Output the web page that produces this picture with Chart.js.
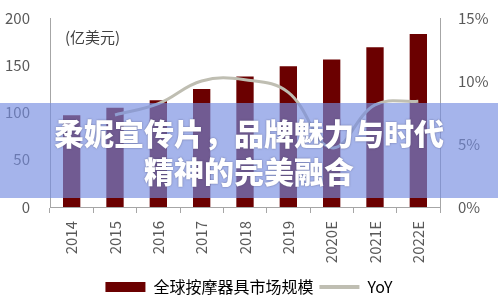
<!DOCTYPE html>
<html>
<head>
<meta charset="utf-8">
<script src="https://cdn.jsdelivr.net/npm/chart.js@4.4.1/dist/chart.umd.min.js"></script>
<style>
  html, body { margin: 0; padding: 0; background: #ffffff; }
  #wrap { position: relative; width: 498px; height: 302px; overflow: hidden; }
  #chart { position: absolute; left: 0; top: 0; }
  #banner {
    position: absolute; left: 0; top: 103px; width: 498px; height: 95px;
    background: rgba(117, 140, 225, 0.65);
    display: flex; flex-direction: column; align-items: center; justify-content: center;
    color: #ffffff;
    font-family: "Noto Sans CJK SC", "Noto Sans", sans-serif;
    font-weight: 900; font-size: 30px; line-height: 38px;
    text-shadow: 0 0 2px rgba(60, 60, 100, 0.6);
  }
</style>
</head>
<body>
<div id="wrap">
  <canvas id="chart" width="498" height="302"></canvas>
  <div id="banner"><div>柔妮宣传片，品牌魅力与时代</div><div>精神的完美融合</div></div>
</div>
<script>
// 全球按摩器具市场规模（亿美元）及同比增速
const years = ['2014', '2015', '2016', '2017', '2018', '2019', '2020E', '2021E', '2022E'];
const marketSize = [97, 105, 113, 125, 138, 149, 156, 169, 183];
const yoy = [null, 7.3, 8.2, 10.0, 10.1, 9.1, 4.7, 8.1, 8.4];
const leftTicks = [0, 50, 100, 150, 200];
const rightTicks = [0, 5, 10, 15];
const unitLabel = '(亿美元)';
const seriesNames = ['全球按摩器具市场规模', 'YoY'];

const barColor = '#6b0000';
const lineColor = '#bfbeb2';
const tickColor = '#595959';
const axisColor = '#a6a6a6';
const font = "'Noto Sans CJK SC', 'Noto Sans', sans-serif";

const unitLabelPlugin = {
  id: 'unitLabel',
  afterDatasetsDraw(chart) {
    const { ctx, chartArea } = chart;
    ctx.save();
    ctx.fillStyle = '#404040';
    ctx.font = '15px ' + font;
    ctx.textBaseline = 'middle';
    ctx.textAlign = 'left';
    ctx.fillText(unitLabel, chartArea.left + 15, chartArea.top + 19);
    ctx.restore();
  }
};

// vertical axes: fixed width, no extra label padding above/below the plot
function fixVertical(width) {
  return function (scale) {
    scale.width = width;
    scale.paddingTop = 0;
    scale.paddingBottom = 0;
  };
}

new Chart(document.getElementById('chart'), {
  data: {
    labels: years,
    datasets: [
      {
        type: 'line',
        label: seriesNames[1],
        data: yoy,
        yAxisID: 'y1',
        borderColor: lineColor,
        backgroundColor: lineColor,
        borderWidth: 3,
        pointRadius: 0,
        tension: 0.4,
        order: 0
      },
      {
        type: 'bar',
        label: seriesNames[0],
        data: marketSize,
        yAxisID: 'y',
        backgroundColor: barColor,
        borderWidth: 0,
        barPercentage: 0.4,
        categoryPercentage: 1.0,
        order: 1
      }
    ]
  },
  options: {
    responsive: false,
    animation: false,
    devicePixelRatio: 1,
    layout: { padding: { top: 18, left: 0, right: 0, bottom: -3 } },
    plugins: {
      tooltip: { enabled: false },
      legend: {
        position: 'bottom',
        reverse: true,
        labels: {
          usePointStyle: true,
          pointStyleWidth: 40,
          boxHeight: 10,
          padding: 6,
          color: '#404040',
          font: { family: font, size: 16 },
          generateLabels(chart) {
            return chart.data.datasets.map((ds, i) => ({
              text: ds.label,
              datasetIndex: i,
              fillStyle: ds.type === 'bar' ? barColor : lineColor,
              strokeStyle: ds.type === 'bar' ? barColor : lineColor,
              lineWidth: ds.type === 'bar' ? 0 : 4,
              pointStyle: ds.type === 'bar' ? 'rect' : 'line',
              hidden: false
            }));
          }
        }
      }
    },
    scales: {
      x: {
        offset: true,
        grid: { display: true, drawOnChartArea: false, drawTicks: true, tickLength: 6, color: axisColor, offset: true },
        border: { display: true, color: axisColor },
        ticks: { color: tickColor, font: { family: font, size: 15 }, minRotation: 90, maxRotation: 90, padding: 8, autoSkip: false },
        afterFit(scale) { scale.height = 66; }
      },
      y: {
        position: 'left',
        min: 0, max: 200,
        afterBuildTicks(scale) { scale.ticks = leftTicks.map(v => ({ value: v })); },
        grid: { display: false, drawTicks: false },
        border: { display: true, color: axisColor },
        ticks: { color: tickColor, font: { family: font, size: 15 }, padding: 20 },
        afterFit: fixVertical(50)
      },
      y1: {
        position: 'right',
        min: 0, max: 15,
        afterBuildTicks(scale) { scale.ticks = rightTicks.map(v => ({ value: v })); },
        grid: { display: false, drawTicks: false },
        border: { display: true, color: axisColor },
        ticks: { color: tickColor, font: { family: font, size: 15 }, padding: 18, callback: v => v + '%' },
        afterFit: fixVertical(58)
      }
    }
  },
  plugins: [unitLabelPlugin]
});
</script>
</body>
</html>
